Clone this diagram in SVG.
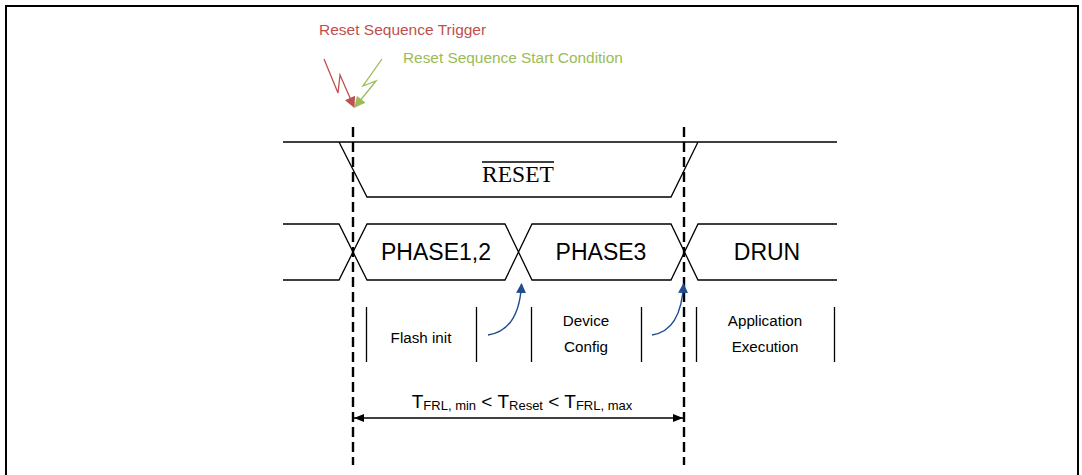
<svg xmlns="http://www.w3.org/2000/svg" width="1082" height="475" viewBox="0 0 1082 475">
<style>
.sig{fill:none;stroke:#000;stroke-width:1.3}
.dash{fill:none;stroke:#000;stroke-width:2.4;stroke-dasharray:10 5}
.bar{fill:none;stroke:#000;stroke-width:1.3}
.lbl{font-family:"Liberation Sans",Arial,sans-serif;fill:#000;text-anchor:middle}
.blue{fill:none;stroke:#1f4e8c;stroke-width:1.4}
</style>
<defs>
<marker id="bh" viewBox="0 0 10 10" refX="9" refY="5" markerWidth="10" markerHeight="10" markerUnits="userSpaceOnUse" orient="auto">
<path d="M0,0 L10,5 L0,10 Z" fill="#1f4e8c"/>
</marker>
<marker id="kh" viewBox="0 0 10 8" refX="10" refY="4" markerWidth="11" markerHeight="8" markerUnits="userSpaceOnUse" orient="auto-start-reverse">
<path d="M0,0 L10,4 L0,8 Z" fill="#000"/>
</marker>
<marker id="rh" viewBox="0 0 10 10" refX="9" refY="5" markerWidth="12" markerHeight="11" markerUnits="userSpaceOnUse" orient="auto">
<path d="M0,0 L10,5 L0,10 Z" fill="#c0504d"/>
</marker>
<marker id="gh" viewBox="0 0 10 10" refX="9" refY="5" markerWidth="12" markerHeight="11" markerUnits="userSpaceOnUse" orient="auto">
<path d="M0,0 L10,5 L0,10 Z" fill="#9bbb59"/>
</marker>
</defs>
<rect width="1082" height="475" fill="#fff"/>
<path d="M6,480 V6 H1078 V480" fill="none" stroke="#000" stroke-width="2"/>

<g id="trigger">
<polyline points="324,59 338,93 340,75 354,107" fill="none" stroke="#c0504d" stroke-width="1.3" marker-end="url(#rh)"/>
<text x="319" y="35" font-family="'Liberation Sans',Arial,sans-serif" font-size="15.5" fill="#c0504d">Reset Sequence Trigger</text>
</g>
<g id="start-condition">
<polyline points="382,59 363,86 376,81 355,107" fill="none" stroke="#9bbb59" stroke-width="1.3" marker-end="url(#gh)"/>
<text x="403" y="63" font-family="'Liberation Sans',Arial,sans-serif" font-size="15.4" fill="#9bbb59">Reset Sequence Start Condition</text>
</g>

<g id="reset-signal">
<path class="sig" d="M283,142 H837 M339,142 L367,197 H671 L698,142"/>
<text x="518" y="182" font-family="'Liberation Serif','Times New Roman',serif" font-size="23.5" text-anchor="middle" fill="#000">RESET</text>
<line x1="482" y1="162" x2="554" y2="162" stroke="#000" stroke-width="1.4"/>
</g>

<g id="phase-bus">
<path class="sig" d="M283,224 H339 L367,280 H505 L532,224 H671 L698,280 H837 M283,280 H339 L367,224 H505 L532,280 H671 L698,224 H837"/>
</g>
<g id="phase12"><text class="lbl" x="436" y="260" font-size="23">PHASE1,2</text></g>
<g id="phase3"><text class="lbl" x="601" y="260" font-size="23">PHASE3</text></g>
<g id="drun"><text class="lbl" x="767" y="260" font-size="23">DRUN</text></g>

<g id="flash-init">
<path class="bar" d="M366.5,307 V362 M476.5,307 V362"/>
<text class="lbl" x="421" y="343" font-size="15.2">Flash init</text>
</g>
<g id="device-config">
<path class="bar" d="M531.5,307 V362 M641.5,307 V362"/>
<text class="lbl" x="586" y="326" font-size="15.2">Device</text>
<text class="lbl" x="586" y="352" font-size="15.2">Config</text>
</g>
<g id="app-exec">
<path class="bar" d="M696.5,307 V362 M834.5,307 V362"/>
<text class="lbl" x="765" y="326" font-size="15.2">Application</text>
<text class="lbl" x="765" y="352" font-size="15.2">Execution</text>
</g>

<g id="connectors">
<line class="dash" x1="353" y1="127" x2="353" y2="465"/>
<line class="dash" x1="684" y1="127" x2="684" y2="465"/>
<path class="blue" d="M488,335 C508,332 520,315 521.5,284" marker-end="url(#bh)"/>
<path class="blue" d="M652,335 C672,332 682,315 683.5,284" marker-end="url(#bh)"/>
<line x1="354" y1="418" x2="683" y2="418" stroke="#000" stroke-width="1.3" marker-start="url(#kh)" marker-end="url(#kh)"/>
</g>

<g id="timing-label">
<text x="522" y="408" font-family="'Liberation Sans',Arial,sans-serif" font-size="19" text-anchor="middle" fill="#000">T<tspan font-size="13" dy="2">FRL, min</tspan><tspan dy="-2"> &lt; T</tspan><tspan font-size="13" dy="2">Reset</tspan><tspan dy="-2"> &lt; T</tspan><tspan font-size="13" dy="2">FRL, max</tspan></text>
</g>
</svg>
